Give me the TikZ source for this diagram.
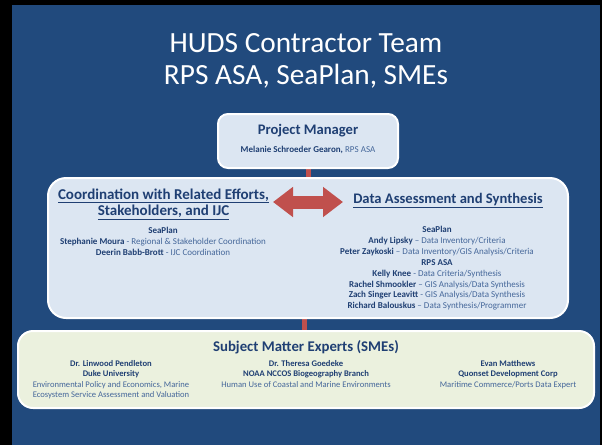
\documentclass[tikz,border=0pt]{standalone}
\usepackage{fontspec}
\setmainfont{Carlito}
\usetikzlibrary{arrows.meta,backgrounds}
\definecolor{slideblue}{HTML}{214A7D}
\definecolor{boxblue}{HTML}{DCE6F2}
\definecolor{boxgreen}{HTML}{EBF1DE}
\definecolor{hdblue}{HTML}{1F3F73}
\definecolor{txblue}{HTML}{45679A}
\definecolor{linkred}{HTML}{C0504D}
\newcommand\dsc[1]{{\mdseries\color{txblue}#1}}
\begin{document}
\begin{tikzpicture}[x=1pt,y=-1pt,
  panel/.style={draw=white, line width=2pt, rounded corners=#1, inner sep=0pt},
  body/.style={align=center, text=hdblue, font=\fontsize{9}{10.9}\selectfont\bfseries, inner sep=0pt},
  head/.style={align=center, text=hdblue, font=\fontsize{14.6}{16.5}\selectfont\bfseries, inner sep=0pt},
  smebody/.style={body, font=\fontsize{8.6}{10.5}\selectfont\bfseries, anchor=north},
  link/.style={linkred, line width=5pt}]
\useasboundingbox (0,0) rectangle (602,445);
\begin{scope}[on background layer]
\fill[black] (0,0) rectangle (602,445);
\fill[slideblue] (12,5) rectangle (600,445);
\end{scope}
% title
\node[text=white, align=center, font=\fontsize{29.3}{32}\selectfont, inner sep=0pt] (title) at (306,61)
  {HUDS Contractor Team\\RPS ASA, SeaPlan, SMEs};
% project manager
\node[panel=10pt, fill=boxblue, minimum width=180pt, minimum height=54pt] (pm) at (308,141) {};
\node[head] (pmhead) at (308,131) {Project Manager};
\node[body] (pmname) at (308,150) {Melanie Schroeder Gearon, \dsc{RPS ASA}};
% middle panel
\node[panel=18pt, fill=boxblue, minimum width=520pt, minimum height=140pt] (mid) at (308,248) {};
\node[head, font=\fontsize{15}{16.5}\selectfont\bfseries] (lhead) at (163.5,204)
  {\underline{Coordination with Related Efforts,}\\\underline{Stakeholders, and IJC}};
\node[body, anchor=north] (ltext) at (163,227)
  {SeaPlan\\Stephanie Moura \dsc{- Regional \& Stakeholder Coordination}\\Deerin Babb-Brott \dsc{- IJC Coordination}};
\node[head] (rhead) at (448,201) {\underline{Data Assessment and Synthesis}};
\node[body, anchor=north] (rtext) at (437,226)
  {SeaPlan\\
   Andy Lipsky \dsc{– Data Inventory/Criteria}\\
   Peter Zaykoski \dsc{– Data Inventory/GIS Analysis/Criteria}\\
   RPS ASA\\
   Kelly Knee \dsc{- Data Criteria/Synthesis}\\
   Rachel Shmookler \dsc{– GIS Analysis/Data Synthesis}\\
   Zach Singer Leavitt \dsc{- GIS Analysis/Data Synthesis}\\
   Richard Balouskus \dsc{– Data Synthesis/Programmer}};
\coordinate (al) at (273,202);
\coordinate (ar) at (343,202);
\draw[linkred, line width=13pt, {Triangle[length=20pt,width=29pt]}-{Triangle[length=20pt,width=29pt]}] (al) -- (ar);
% SME panel
\node[panel=15pt, fill=boxgreen, minimum width=576pt, minimum height=77pt] (sme) at (306,369.5) {};
\node[head, font=\fontsize{14.8}{16}\selectfont\bfseries] (smehead) at (306,347) {Subject Matter Experts (SMEs)};
\node[smebody] (sme1) at (111,360)
  {Dr. Linwood Pendleton\\Duke University\\\dsc{Environmental Policy and Economics, Marine}\\\dsc{Ecosystem Service Assessment and Valuation}};
\node[smebody] (sme2) at (306,360)
  {Dr. Theresa Goedeke\\NOAA NCCOS Biogeography Branch\\\dsc{Human Use of Coastal and Marine Environments}};
\node[smebody] (sme3) at (508,360)
  {Evan Matthews\\Quonset Development Corp\\\dsc{Maritime Commerce/Ports Data Expert}};
% connectors
\begin{scope}[on background layer]
\draw[link] (pm.south) -- (mid.north);
\draw[link] ([xshift=-4pt]mid.south) -- ([xshift=-4pt]mid.south |- sme.north);
\end{scope}
\end{tikzpicture}
\end{document}
